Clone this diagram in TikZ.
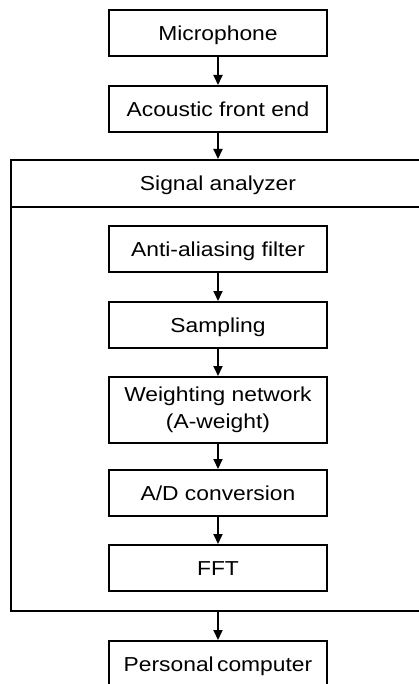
\documentclass[tikz,border=0pt]{standalone}
\usepackage{fontspec}
\setmainfont{Liberation Sans}[FakeStretch=1.13]
\usetikzlibrary{arrows.meta}
\begin{document}
\begin{tikzpicture}[x=1pt,y=-1pt,
  lbl/.style={font=\fontsize{20.2}{27}\selectfont,inner sep=0pt,text height=14.5pt,text depth=0pt},
  blk/.style={lbl,draw,line width=2pt,minimum width=218pt,minimum height=46pt},
  flow/.style={line width=2pt,-{Triangle[length=10pt,width=9pt]}}]
\useasboundingbox (0,0) rectangle (419,684);
\begin{scope}
\clip (0,0) rectangle (419,684);
% stages before the analyzer
\node[blk] (mic) at (218,33) {Microphone};
\node[blk] (front) at (218,109) {Acoustic front end};
% signal analyzer frame with its header
\node[draw,line width=2pt,minimum width=419pt,minimum height=451pt,inner sep=0pt] (analyzer) at (220.5,385.5) {};
\coordinate (hdrL) at (analyzer.west |- 0,207);
\coordinate (hdrR) at (analyzer.east |- 0,207);
\draw[line width=2pt] (hdrL) -- (hdrR);
\node[lbl] (hdr) at (218,183.5) {Signal analyzer};
% processing chain inside the analyzer
\node[blk] (aaf) at (218,249) {Anti-aliasing filter};
\node[blk] (smp) at (218,325) {Sampling};
\node[blk,minimum height=66pt,align=center,text height=,text depth=] (wgt) at (218,410) {Weighting network\\(A-weight)};
\node[blk] (adc) at (218,493) {A/D conversion};
\node[blk] (fft) at (218,568) {FFT};
% output
\node[blk] (pc) at (218,664) {Personal\,computer};
% connectors
\draw[flow] (mic) -- (front);
\draw[flow] (front) -- (front |- analyzer.north);
\draw[flow] (aaf) -- (smp);
\draw[flow] (smp) -- (wgt);
\draw[flow] (wgt) -- (adc);
\draw[flow] (adc) -- (fft);
\draw[flow] (analyzer.south -| pc) -- (pc);
\end{scope}
\end{tikzpicture}
\end{document}
